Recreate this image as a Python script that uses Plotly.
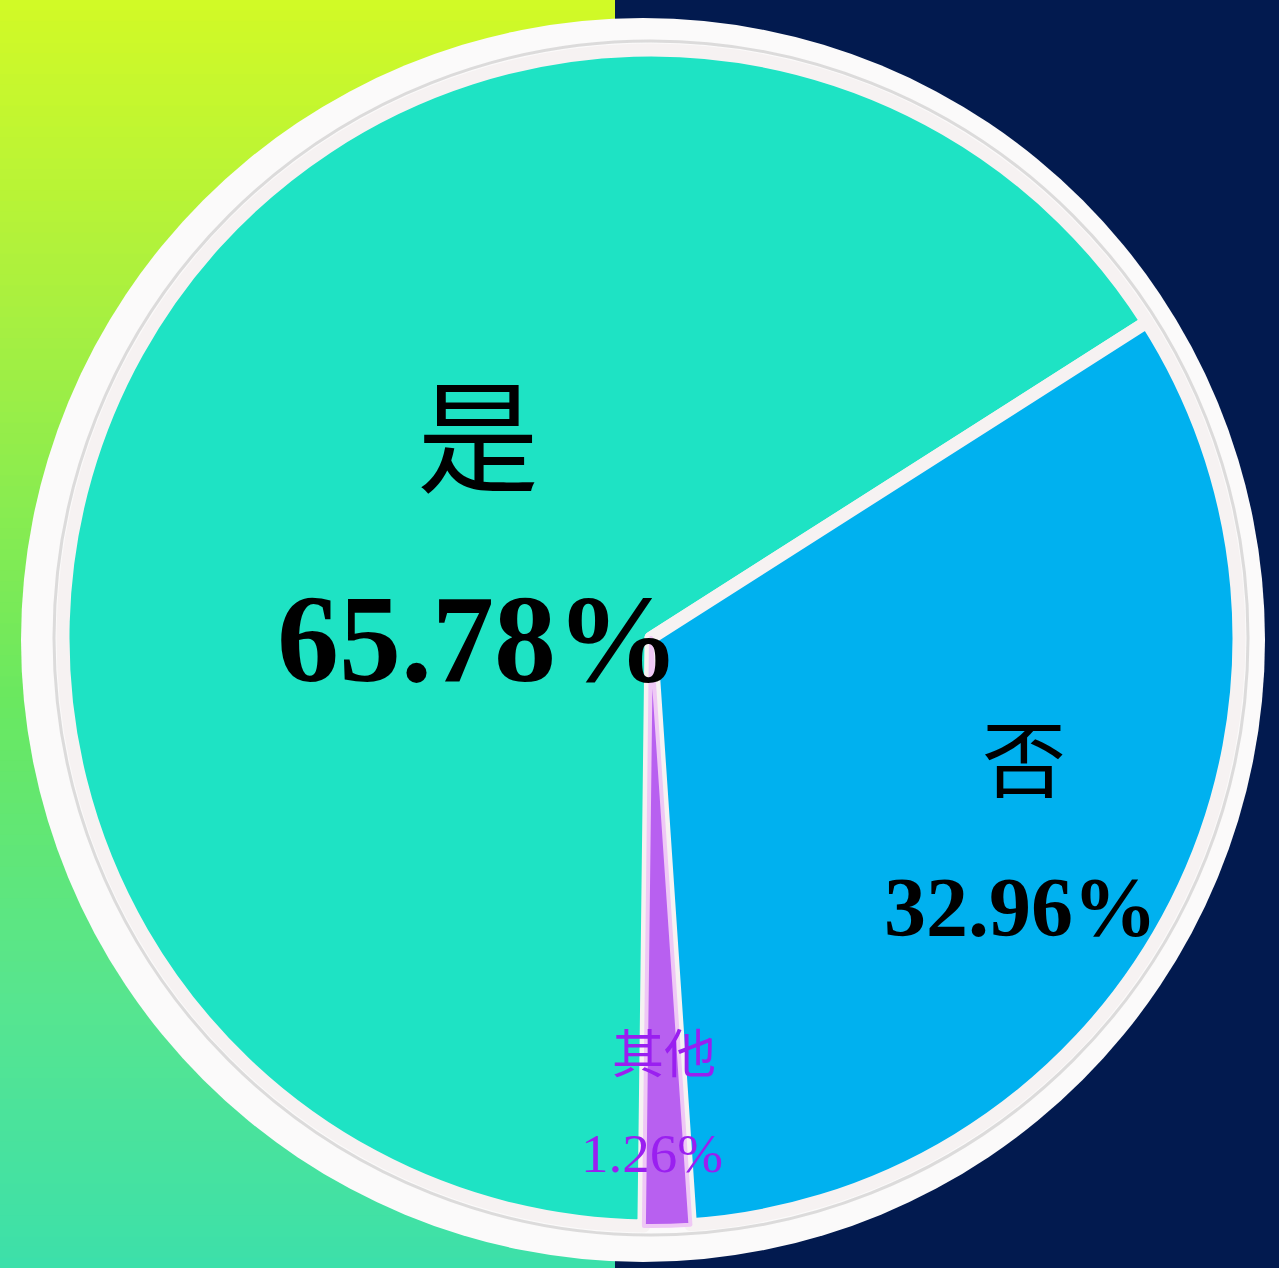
import math
import plotly.graph_objects as go

# ---- data ----
labels = ["是", "否", "其他"]
values = [65.78, 32.96, 1.26]
pct_text = ["65.78%", "32.96%", "1.26%"]

# ---- style ----
W, H = 1279, 1268
slice_colors = ["#1ee3c4", "#00b1ef", "#b860f0"]
line_colors = ["#f6f2f2", "#f6f2f2", "#efc8f5"]
line_widths = [13, 13, 4]
boundary_angle = 57.5          # clockwise from 12 o'clock, start of 否 slice
pie_cx, pie_cy, pie_r = 651, 638, 588
ring_cx, ring_cy, ring_r = 643, 640, 622
split_x = 615

def px(x):
    return x / W

def py(y):
    return 1 - y / H

total = sum(values)
rotation = boundary_angle - values[0] / total * 360.0

fig = go.Figure()

fig.add_trace(go.Pie(
    labels=labels,
    values=values,
    sort=False,
    direction="clockwise",
    rotation=rotation,
    textinfo="none",
    hoverinfo="skip",
    showlegend=False,
    marker=dict(colors=slice_colors, line=dict(color=line_colors, width=line_widths)),
    domain=dict(x=[px(pie_cx - pie_r), px(pie_cx + pie_r)],
                y=[py(pie_cy + pie_r), py(pie_cy - pie_r)]),
))

# ---- background ----
shapes = []
stops = [(0, (0xd2, 0xfa, 0x26)), (300, (0xaa, 0xf0, 0x3f)), (700, (0x6a, 0xe8, 0x60)),
         (1000, (0x57, 0xe5, 0x8f)), (1268, (0x3c, 0xe0, 0xaa))]

def grad(y):
    for (y0, c0), (y1, c1) in zip(stops[:-1], stops[1:]):
        if y0 <= y <= y1:
            t = (y - y0) / (y1 - y0)
            return "rgb(%d,%d,%d)" % tuple(round(a + (b - a) * t) for a, b in zip(c0, c1))
    return "rgb(%d,%d,%d)" % stops[-1][1]

n = 120
step = H / n
for i in range(n):
    y0 = i * step
    y1 = (i + 1) * step + 1
    shapes.append(dict(type="rect", xref="paper", yref="paper", layer="below",
                       x0=0, x1=px(split_x), y0=py(min(y1, H)), y1=py(y0),
                       line=dict(width=0), fillcolor=grad((y0 + y1) / 2)))
shapes.append(dict(type="rect", xref="paper", yref="paper", layer="below",
                   x0=px(split_x), x1=1, y0=0, y1=1, line=dict(width=0), fillcolor="#021a4f"))
# white outer ring
shapes.append(dict(type="circle", xref="paper", yref="paper", layer="below",
                   x0=px(ring_cx - ring_r), x1=px(ring_cx + ring_r),
                   y0=py(ring_cy + ring_r), y1=py(ring_cy - ring_r),
                   line=dict(width=0), fillcolor="#fbfafa"))
shapes.append(dict(type="circle", xref="paper", yref="paper", layer="below",
                   x0=px(pie_cx - pie_r - 9), x1=px(pie_cx + pie_r + 9),
                   y0=py(pie_cy + pie_r + 9), y1=py(pie_cy - pie_r - 9),
                   line=dict(width=3, color="rgba(150,150,150,0.3)"), fillcolor="rgba(0,0,0,0)"))

# ---- labels, placed at each slice's mid-angle ----
radius_frac = [0.345, 0.705, 0.79]
label_fonts = [dict(family="Noto Sans CJK SC", size=122, color="black"),
               dict(family="Noto Sans CJK SC", size=84, color="black"),
               dict(family="Noto Sans CJK SC", size=52, color="#9a1ff0")]
pct_fonts = [dict(family="Liberation Serif", size=124, color="black"),
             dict(family="Liberation Serif", size=84, color="black"),
             dict(family="Liberation Serif", size=55, color="#9a1ff0")]
pct_bold = [True, True, False]
label_off = [110, 71, 52]
pct_off = [100, 82, 51]
pct_dx = [5, 0, -12]
label_dx = [4, 3, 0]

annotations = []
start = rotation
for i, v in enumerate(values):
    span = v / total * 360.0
    mid = math.radians(start + span / 2)
    start += span
    cx = pie_cx + radius_frac[i] * pie_r * math.sin(mid)
    cy = pie_cy - radius_frac[i] * pie_r * math.cos(mid)
    pt = "<b>%s</b>" % pct_text[i] if pct_bold[i] else pct_text[i]
    annotations.append(dict(x=px(cx + label_dx[i]), y=py(cy - label_off[i]), xref="paper", yref="paper",
                            text=labels[i], showarrow=False, font=label_fonts[i],
                            xanchor="center", yanchor="middle"))
    annotations.append(dict(x=px(cx + pct_dx[i]), y=py(cy + pct_off[i]), xref="paper", yref="paper",
                            text=pt, showarrow=False, font=pct_fonts[i],
                            xanchor="center", yanchor="middle"))

fig.update_layout(
    width=W, height=H,
    margin=dict(l=0, r=0, t=0, b=0),
    paper_bgcolor="#021a4f",
    plot_bgcolor="rgba(0,0,0,0)",
    shapes=shapes,
    annotations=annotations,
    showlegend=False,
)

fig.write_html("out.html", config={"displayModeBar": False},
               post_script="document.body.style.margin='0';document.body.style.overflow='hidden';")
